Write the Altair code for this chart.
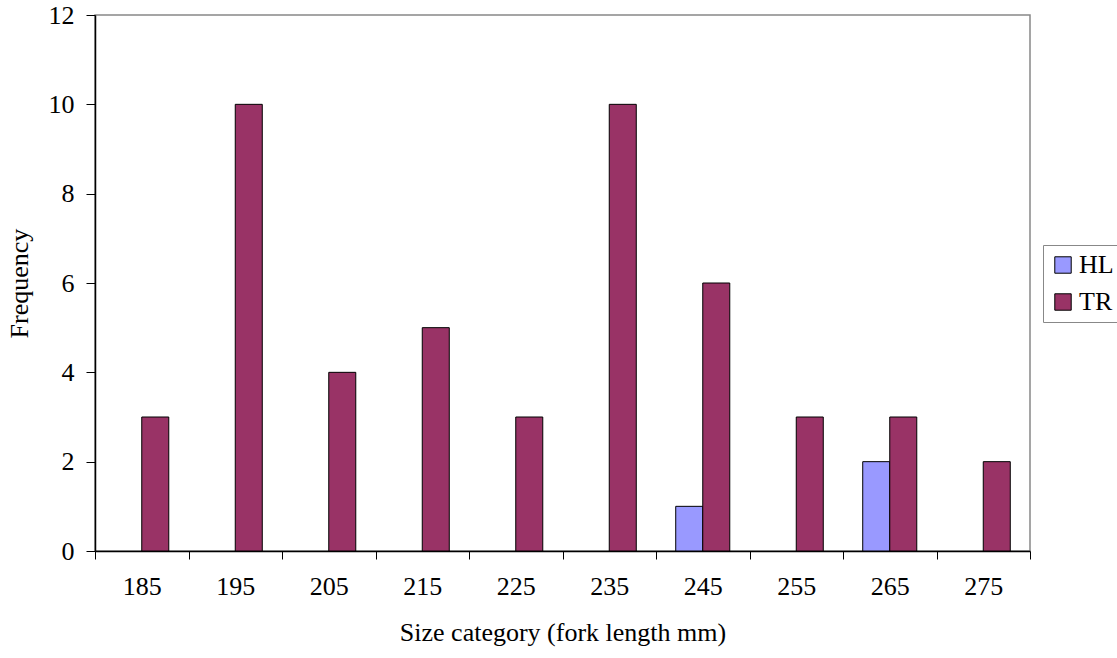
import altair as alt
import pandas as pd

categories = ["185", "195", "205", "215", "225", "235", "245", "255", "265", "275"]
hl_values = [0, 0, 0, 0, 0, 0, 1, 0, 2, 0]
tr_values = [3, 10, 4, 5, 3, 10, 6, 3, 3, 2]
series = ["HL", "TR"]
colors = ["#9999FF", "#993366"]

rows = []
for c, h, t in zip(categories, hl_values, tr_values):
    rows.append({"size": c, "group": "HL", "freq": h})
    rows.append({"size": c, "group": "TR", "freq": t})
df = pd.DataFrame(rows)
df = df[df["freq"] > 0]

FONT = "Liberation Serif"
FS = 26

chart = alt.Chart(df).mark_bar(stroke="black", strokeWidth=1).encode(
    x=alt.X("size:N", sort=categories,
            scale=alt.Scale(domain=categories, paddingInner=0, paddingOuter=0),
            axis=alt.Axis(title="Size category (fork length mm)", labelAngle=0,
                          tickBand="extent", ticks=True, tickSize=8,
                          labelPadding=14, titlePadding=20,
                          labelFont=FONT, titleFont=FONT, labelFontSize=FS, titleFontSize=FS,
                          labelColor="black", titleColor="black", titleFontWeight="normal",
                          domainColor="#000000", tickColor="#000000", domainWidth=1.5)),
    xOffset=alt.XOffset("group:N", scale=alt.Scale(domain=series, paddingInner=0, paddingOuter=0.73)),
    y=alt.Y("freq:Q", scale=alt.Scale(domain=[0, 12], nice=False),
            axis=alt.Axis(title="Frequency", values=[0, 2, 4, 6, 8, 10, 12], tickSize=9,
                          labelPadding=12, grid=False, titlePadding=16,
                          labelFont=FONT, titleFont=FONT, labelFontSize=FS, titleFontSize=FS,
                          labelColor="black", titleColor="black", titleFontWeight="normal",
                          domainColor="#000000", tickColor="#000000", domainWidth=1.5)),
    color=alt.Color("group:N", scale=alt.Scale(domain=series, range=colors),
                    legend=alt.Legend(title=None, orient="none", legendX=948, legendY=230,
                                      strokeColor="#888888", padding=7,
                                      symbolType="square", symbolSize=270,
                                      symbolStrokeColor="black", symbolStrokeWidth=1,
                                      symbolOpacity=1, rowPadding=11, labelOffset=3,
                                      labelFontSize=FS, labelFont=FONT, labelColor="black")),
).properties(
    width=935, height=536,
    padding={"left": 95, "top": 15, "right": 87, "bottom": 107},
    autosize=alt.AutoSizeParams(type="none"),
    background="white",
).configure_view(
    stroke="#888888", strokeWidth=1.5
)

chart.save("out.html", embed_options={"renderer": "svg", "actions": False})
